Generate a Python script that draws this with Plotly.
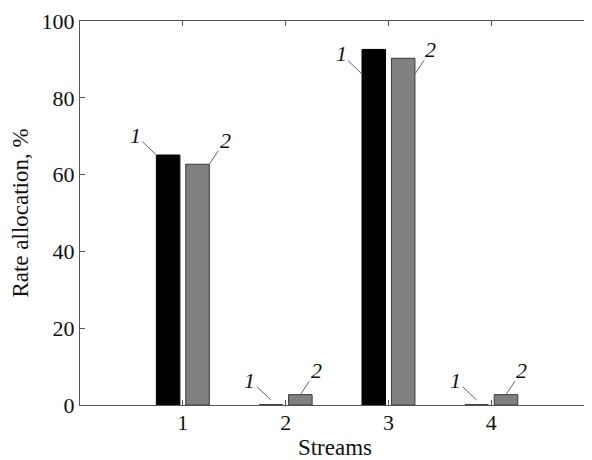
import plotly.graph_objects as go

# ---- data ----
streams = [1, 2, 3, 4]
stream_labels = ["1", "2", "3", "4"]
series1 = [65.1, 0.0, 92.6, 0.0]
series2 = [62.7, 2.7, 90.3, 2.7]
series_names = ["1", "2"]
y_ticks = [0, 20, 40, 60, 80, 100]

# ---- style ----
FONT = "Liberation Serif, Times New Roman, serif"
AXC = "#555555"
bargap = 0.428
bargroupgap = 0.2
slot = (1 - bargap) / 2
bw = slot * (1 - bargroupgap)

fig = go.Figure()
fig.add_trace(go.Bar(x=streams, y=series1, name=series_names[0],
                     marker=dict(color="#000000", line=dict(color="#000000", width=1))))
fig.add_trace(go.Bar(x=streams, y=series2, name=series_names[1],
                     marker=dict(color="#808080", line=dict(color="#3a3a3a", width=1))))

# label placement (styling): where the leader line touches each bar
place1 = [("edge", 0.0), ("center", -1.3), ("edge", 6.4), ("center", -1.3)]
place2 = [("edge", 0.0), ("center", 0.0), ("edge", 4.1), ("center", 0.0)]

ann = []
for i, s in enumerate(streams):
    c1 = s - slot / 2
    c2 = s + slot / 2
    m1, d1 = place1[i]
    m2, d2 = place2[i]
    x1 = c1 - bw / 2 if m1 == "edge" else c1
    x2 = c2 + bw / 2 if m2 == "edge" else c2
    ann.append(dict(x=x1, y=series1[i] - d1, xref="x", yref="y",
                    text="<i>" + series_names[0] + "</i>",
                    showarrow=True, arrowhead=0, arrowwidth=1, arrowcolor="#666666",
                    ax=-21, ay=-20, font=dict(family=FONT, size=22, color="#111111")))
    ann.append(dict(x=x2, y=series2[i] - d2, xref="x", yref="y",
                    text="<i>" + series_names[1] + "</i>",
                    showarrow=True, arrowhead=0, arrowwidth=1, arrowcolor="#666666",
                    ax=16, ay=-24, font=dict(family=FONT, size=22, color="#111111")))

fig.update_layout(
    width=584, height=452,
    margin=dict(l=72, r=1, t=10, b=52),
    barmode="group", bargap=bargap, bargroupgap=bargroupgap,
    showlegend=False,
    plot_bgcolor="white", paper_bgcolor="white",
    font=dict(family=FONT, size=22, color="#111111"),
    annotations=ann,
    xaxis=dict(range=[0, 4.96], tickvals=streams, ticktext=stream_labels,
               ticks="inside", ticklen=5, tickcolor=AXC, showline=True, linecolor=AXC,
               linewidth=1, mirror="ticks", showgrid=False, zeroline=False,
               ticklabelstandoff=-2,
               title=dict(text="Streams", standoff=7, font=dict(size=23))),
    yaxis=dict(range=[0, 100], tickvals=y_ticks, ticklabeloverflow="allow",
               ticks="inside", ticklen=5, tickcolor=AXC, showline=True, linecolor=AXC,
               linewidth=1, mirror="ticks", showgrid=False, zeroline=False,
               title=dict(text="Rate allocation, %", standoff=6, font=dict(size=23))),
)

fig.write_html("out.html")
